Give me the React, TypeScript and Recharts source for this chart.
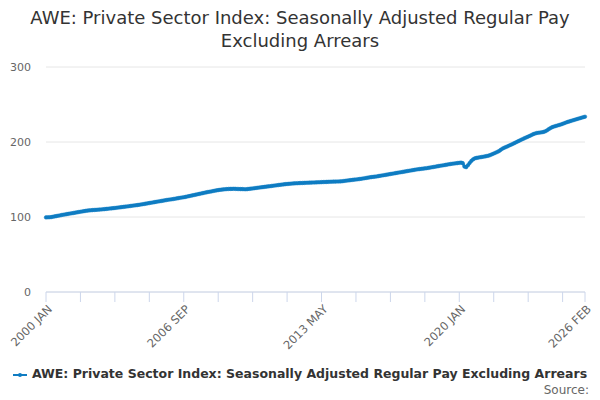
import React from "react";
import { LineChart, Line, XAxis, YAxis, CartesianGrid } from "recharts";

const MONTHS = ["JAN", "FEB", "MAR", "APR", "MAY", "JUN", "JUL", "AUG", "SEP", "OCT", "NOV", "DEC"];
const START_YEAR = 2000;

const v2000 = [99.5, 99.6, 99.7, 99.9, 100.3, 100.8, 101.2, 101.7, 102.1, 102.6, 103.0, 103.4];
const v2001 = [103.8, 104.2, 104.6, 105.0, 105.4, 105.8, 106.2, 106.6, 107.0, 107.4, 107.8, 108.2];
const v2002 = [108.5, 108.8, 109.0, 109.2, 109.4, 109.5, 109.7, 109.9, 110.1, 110.3, 110.5, 110.8];
const v2003 = [111.0, 111.3, 111.5, 111.8, 112.0, 112.3, 112.6, 112.9, 113.2, 113.5, 113.8, 114.1];
const v2004 = [114.4, 114.7, 115.0, 115.3, 115.6, 115.9, 116.2, 116.6, 117.0, 117.4, 117.8, 118.2];
const v2005 = [118.6, 119.0, 119.4, 119.8, 120.2, 120.6, 121.0, 121.4, 121.8, 122.2, 122.6, 123.0];
const v2006 = [123.3, 123.6, 124.0, 124.4, 124.8, 125.2, 125.6, 126.0, 126.4, 126.8, 127.3, 127.8];
const v2007 = [128.3, 128.8, 129.3, 129.8, 130.3, 130.8, 131.3, 131.8, 132.3, 132.8, 133.3, 133.7];
const v2008 = [134.1, 134.6, 135.1, 135.5, 135.9, 136.2, 136.5, 136.8, 137.0, 137.2, 137.4, 137.5];
const v2009 = [137.5, 137.6, 137.5, 137.4, 137.3, 137.2, 137.2, 137.1, 137.0, 137.2, 137.5, 137.8];
const v2010 = [138.1, 138.4, 138.7, 139.0, 139.3, 139.6, 139.9, 140.2, 140.5, 140.8, 141.1, 141.4];
const v2011 = [141.7, 142.0, 142.3, 142.6, 142.9, 143.2, 143.5, 143.8, 144.0, 144.2, 144.4, 144.6];
const v2012 = [144.8, 145.0, 145.1, 145.2, 145.3, 145.4, 145.5, 145.6, 145.7, 145.8, 145.9, 146.0];
const v2013 = [146.1, 146.2, 146.3, 146.4, 146.5, 146.6, 146.7, 146.8, 146.9, 147.0, 147.1, 147.2];
const v2014 = [147.2, 147.3, 147.4, 147.5, 147.7, 148.0, 148.3, 148.6, 148.9, 149.2, 149.5, 149.8];
const v2015 = [150.0, 150.3, 150.6, 150.9, 151.3, 151.7, 152.1, 152.5, 152.9, 153.2, 153.5, 153.8];
const v2016 = [154.1, 154.5, 154.9, 155.3, 155.7, 156.1, 156.5, 156.9, 157.3, 157.7, 158.1, 158.5];
const v2017 = [158.9, 159.3, 159.7, 160.1, 160.5, 160.9, 161.3, 161.7, 162.1, 162.5, 162.9, 163.3];
const v2018 = [163.6, 163.9, 164.2, 164.5, 164.8, 165.1, 165.5, 165.9, 166.3, 166.7, 167.1, 167.5];
const v2019 = [167.9, 168.3, 168.7, 169.1, 169.5, 169.9, 170.3, 170.7, 171.0, 171.3, 171.6, 171.9];
const v2020 = [172.2, 172.5, 171.8, 167.2, 166.5, 169.0, 172.0, 174.8, 176.8, 178.2, 178.8, 179.2];
const v2021 = [179.6, 180.0, 180.4, 180.8, 181.3, 181.8, 182.6, 183.6, 184.6, 185.6, 186.7, 187.8];
const v2022 = [189.5, 191.0, 192.2, 193.2, 194.2, 195.3, 196.3, 197.4, 198.5, 199.7, 200.8, 201.9];
const v2023 = [203.0, 204.1, 205.2, 206.2, 207.2, 208.2, 209.4, 210.5, 211.3, 212.0, 212.3, 212.6];
const v2024 = [213.0, 213.5, 214.3, 215.6, 217.2, 218.6, 219.8, 220.6, 221.3, 222.0, 222.7, 223.4];
const v2025 = [224.2, 225.1, 226.0, 226.8, 227.5, 228.2, 228.9, 229.6, 230.3, 231.0, 231.7, 232.4];
const v2026 = [233.1, 233.7];

const yearValues = [
  v2000, v2001, v2002, v2003, v2004, v2005, v2006, v2007, v2008, v2009,
  v2010, v2011, v2012, v2013, v2014, v2015, v2016, v2017, v2018, v2019,
  v2020, v2021, v2022, v2023, v2024, v2025, v2026,
];

const TICK_LABELS = ["2000 JAN", "2006 SEP", "2013 MAY", "2020 JAN", "2026 FEB"];
const Y_TICKS = [0, 100, 200, 300];
const SERIES_NAME = "AWE: Private Sector Index: Seasonally Adjusted Regular Pay Excluding Arrears";
const TITLE_LINE1 = "AWE: Private Sector Index: Seasonally Adjusted Regular Pay";
const TITLE_LINE2 = "Excluding Arrears";

const data = yearValues.flatMap((vals, yi) =>
  vals.map((v, mi) => ({ label: `${START_YEAR + yi} ${MONTHS[mi]}`, value: v }))
);

// tick marks every 20 months plus the last point
const tickValues = data
  .filter((_, i) => i % 20 === 0 || i === data.length - 1)
  .map((d) => d.label);

const COLOR = "#0f7cc2";
const FONT = "'DejaVu Sans', Verdana, sans-serif";

const XTick = (props: any) => {
  const { x, y, payload } = props;
  if (!TICK_LABELS.includes(payload.value)) return null;
  return (
    <g transform={`translate(${x + 4},${y + 3})`}>
      <text
        x={0}
        y={0}
        textAnchor="end"
        fontSize={11.5}
        fill="#666"
        fontFamily={FONT}
        transform="rotate(-45)"
        dy="0.35em"
      >
        {payload.value}
      </text>
    </g>
  );
};

export default function App() {
  return (
    <div
      style={{
        position: "absolute",
        left: 0,
        top: 0,
        width: 600,
        height: 400,
        background: "#fff",
        fontFamily: FONT,
      }}
    >
      <div
        style={{
          position: "absolute",
          top: 6,
          left: 0,
          width: 600,
          textAlign: "center",
          fontSize: 18,
          lineHeight: "23px",
          color: "#333",
        }}
      >
        <div>{TITLE_LINE1}</div>
        <div>{TITLE_LINE2}</div>
      </div>
      <div style={{ position: "absolute", left: 0, top: 0 }}>
        <LineChart
          width={600}
          height={400}
          data={data}
          margin={{ top: 67, right: 15, bottom: 48, left: 0 }}
        >
          <CartesianGrid vertical={false} stroke="#e6e6e6" />
          <XAxis
            dataKey="label"
            ticks={tickValues}
            interval={0}
            height={60}
            stroke="#ccd6eb"
            tickSize={10}
            tickMargin={2}
            tick={<XTick />}
          />
          <YAxis
            width={46}
            domain={[0, 300]}
            ticks={Y_TICKS}
            axisLine={false}
            tickLine={false}
            tickSize={0}
            tickMargin={15}
            tick={{ fill: "#666", fontSize: 11, fontFamily: FONT }}
          />
          <Line
            type="linear"
            dataKey="value"
            stroke={COLOR}
            strokeWidth={2.5}
            dot={{ r: 1.8, fill: COLOR, stroke: COLOR, strokeWidth: 0.5 }}
            isAnimationActive={false}
          />
        </LineChart>
      </div>
      <div
        style={{
          position: "absolute",
          top: 366,
          left: 0,
          width: 600,
          textAlign: "center",
          fontSize: 12.5,
          fontWeight: "bold",
          color: "#333",
          whiteSpace: "nowrap",
        }}
      >
        <svg width={14} height={10} style={{ verticalAlign: "middle", marginRight: 5 }}>
          <line x1={0} y1={5} x2={14} y2={5} stroke={COLOR} strokeWidth={2} />
          <circle cx={7} cy={5} r={2} fill={COLOR} />
        </svg>
        {SERIES_NAME}
      </div>
      <div
        style={{
          position: "absolute",
          top: 383,
          right: 11,
          fontSize: 12,
          color: "#666",
        }}
      >
        Source:
      </div>
    </div>
  );
}
